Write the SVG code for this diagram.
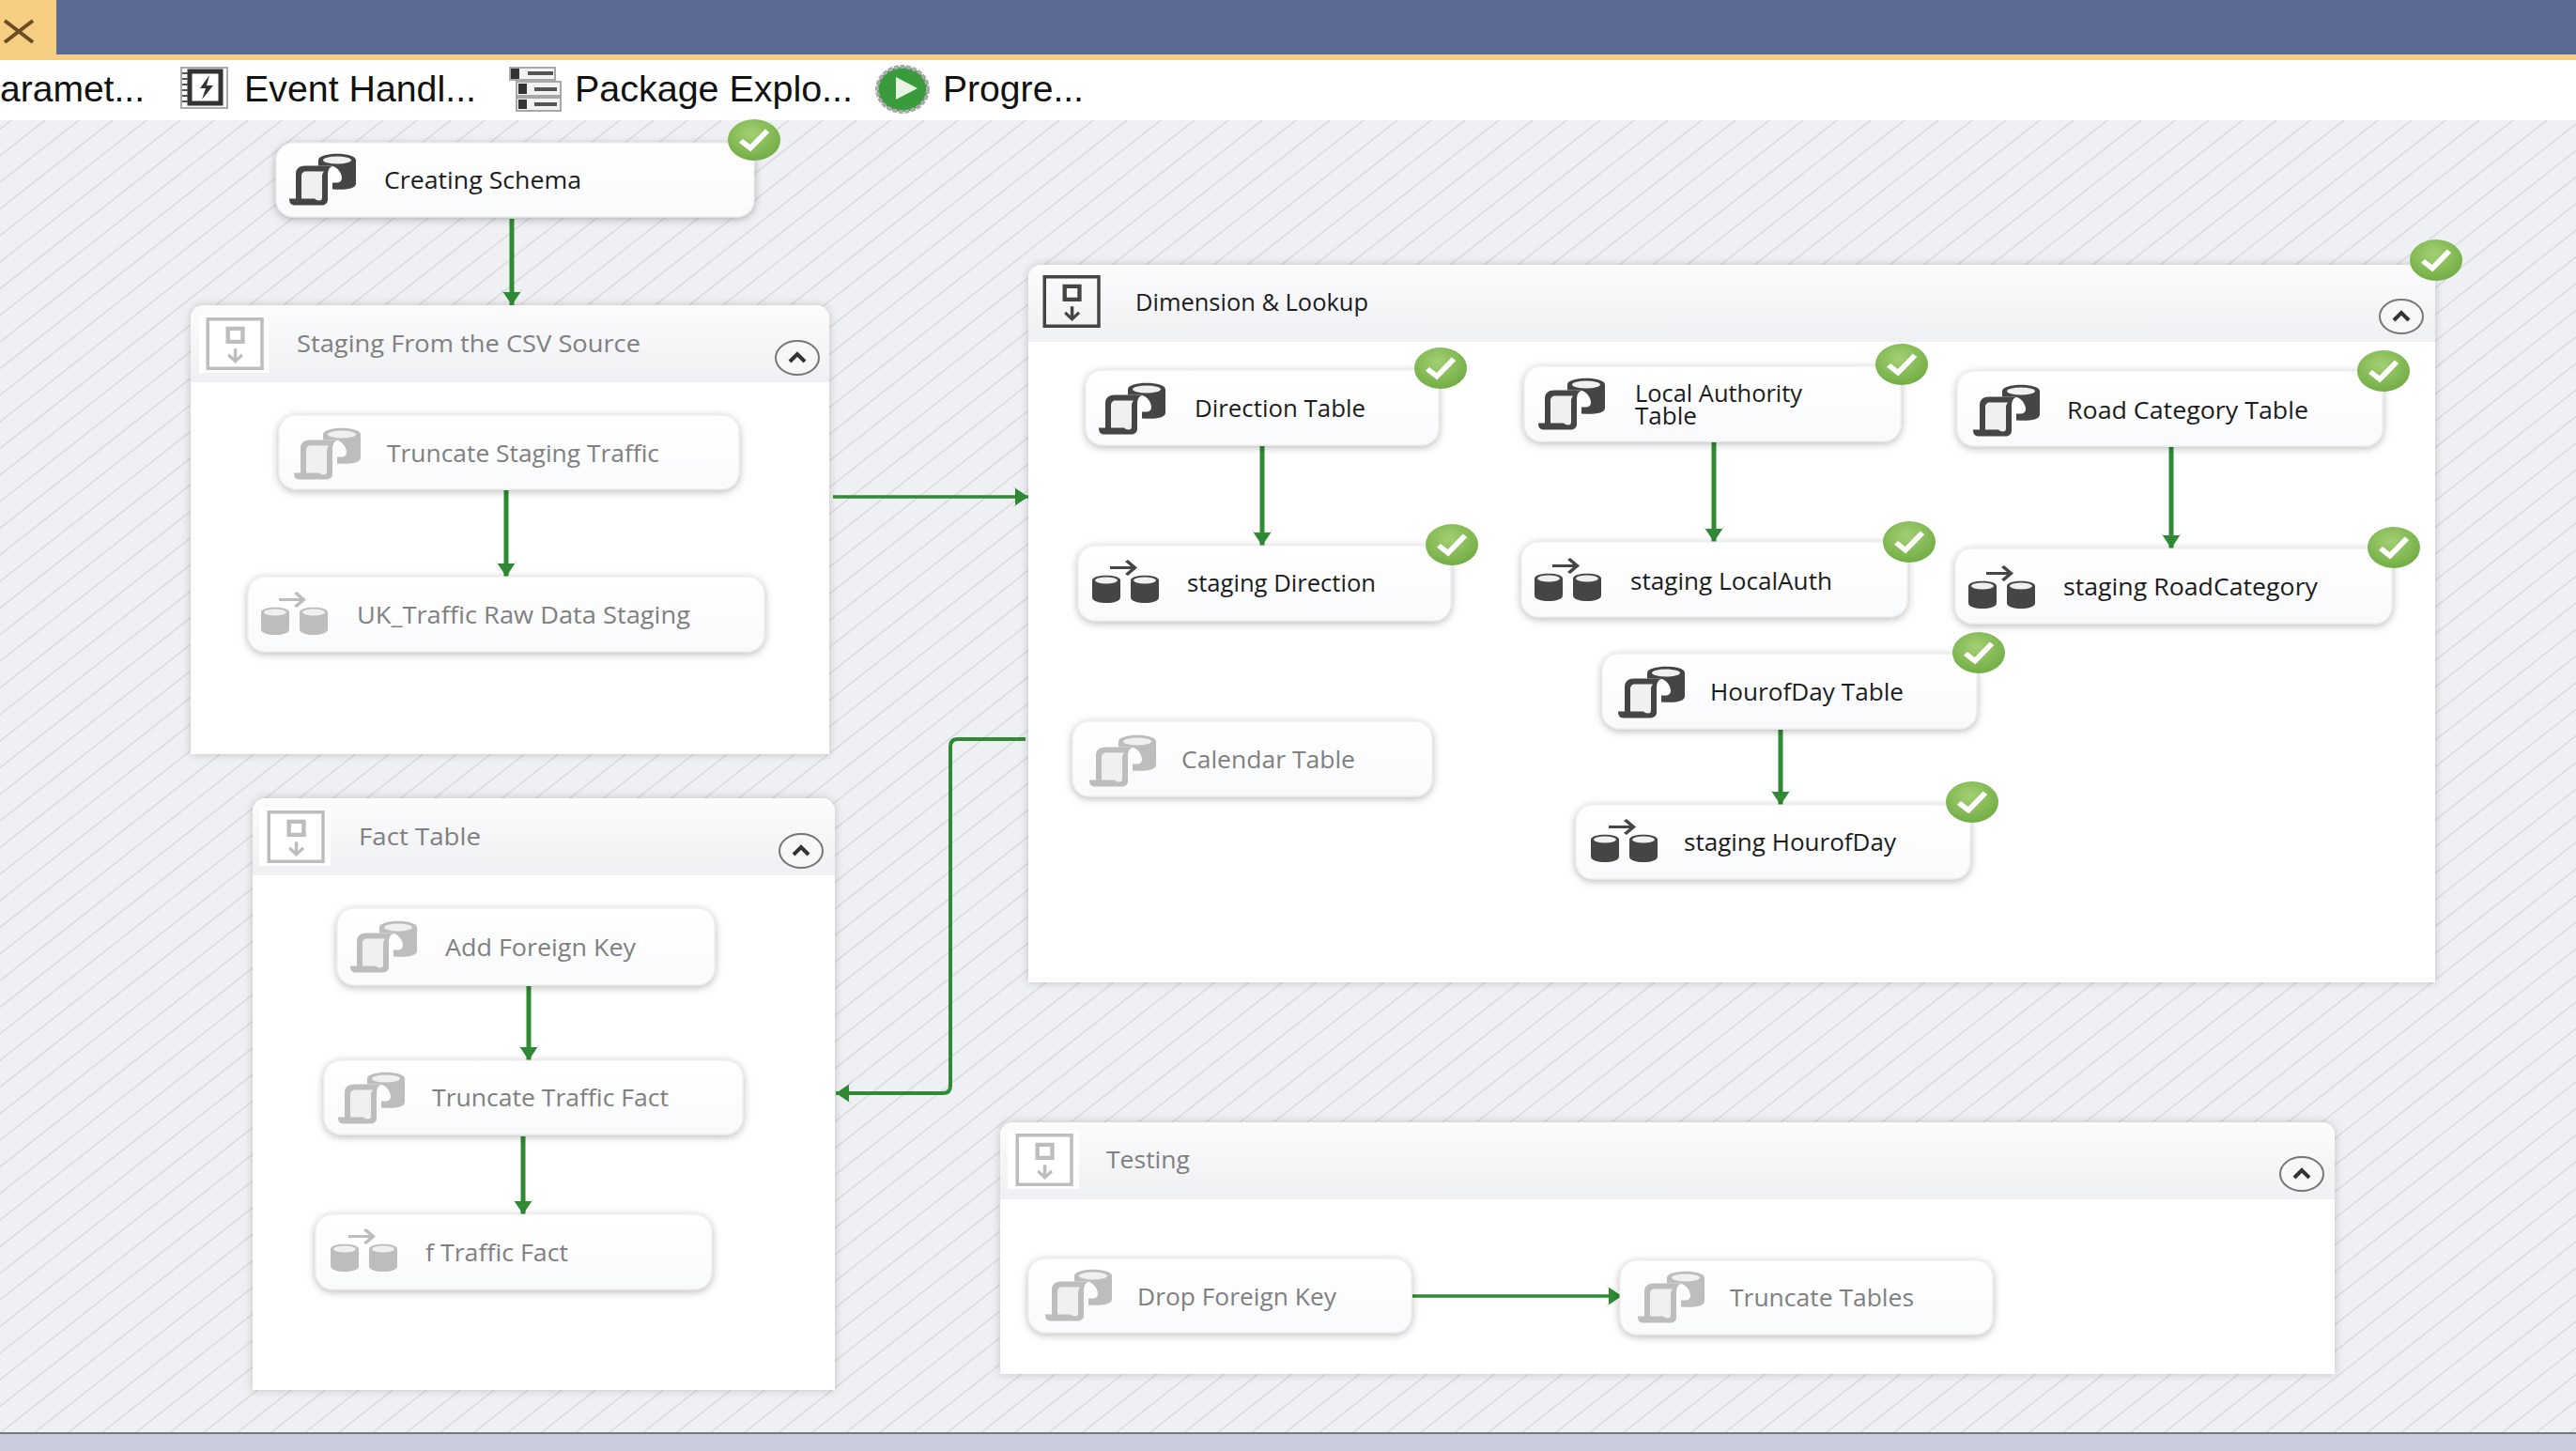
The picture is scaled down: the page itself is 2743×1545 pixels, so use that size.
<svg xmlns="http://www.w3.org/2000/svg" width="2743" height="1545" viewBox="0 0 2743 1545">
<style>
text{font-family:"Open Sans","Liberation Sans",sans-serif}
.tb{font-family:"Liberation Sans",Arial,sans-serif;font-size:39px;fill:#111}
.nt{font-size:25px;fill:#1c1c1c;transform:translateY(1.500px)}
.gt{font-size:25px;fill:#1c1c1c;transform:translateY(1.500px)}
.dim .nt,.dim .gt{fill:#808080}
use{fill:#454545}
.dim use{fill:#bdbdbd}
.card{fill:url(#cardG);stroke:#e8e9ec;stroke-width:1;filter:url(#sh)}
.group{fill:#fff;filter:url(#shg)}
.head{fill:url(#headG)}
.con{fill:none;stroke:#2f8a33;stroke-width:5;marker-end:url(#arr)}
.hor{stroke-width:3.500}
.chev{fill:#f6f7f9;stroke:#777;stroke-width:2}
.chevp{fill:none;stroke:#333;stroke-width:4}
.pk{fill:#f2f2f2;stroke:#a8a8a8;stroke-width:2}
</style>
<defs>
<linearGradient id="cardG" x1="0" y1="0" x2="0" y2="1"><stop offset="0" stop-color="#fff"/><stop offset="1" stop-color="#f9fafc"/></linearGradient>
<linearGradient id="headG" x1="0" y1="0" x2="0" y2="1"><stop offset="0" stop-color="#fcfcfd"/><stop offset="1" stop-color="#eff0f3"/></linearGradient>
<radialGradient id="okG" cx="0.45" cy="0.35" r="0.75"><stop offset="0" stop-color="#a4cf73"/><stop offset="1" stop-color="#6aa83d"/></radialGradient>
<filter id="sh" x="-10%" y="-30%" width="120%" height="170%"><feDropShadow dx="0" dy="2" stdDeviation="4" flood-color="#000" flood-opacity="0.28"/></filter>
<filter id="shg" x="-3%" y="-5%" width="106%" height="110%"><feDropShadow dx="0" dy="0" stdDeviation="5" flood-color="#000" flood-opacity="0.2"/></filter>
<pattern id="hatch" width="108" height="85" patternUnits="userSpaceOnUse" patternTransform="translate(12 128)"><path d="M-116 91.300L8 -6.300M-80 91.300L44 -6.300M-44 91.300L80 -6.300M-8 91.300L116 -6.300M28 91.300L152 -6.300M64 91.300L188 -6.300M100 91.300L224 -6.300" stroke="#d9dadd" stroke-width="1.500" fill="none"/></pattern>
<marker id="arr" markerUnits="userSpaceOnUse" markerWidth="20" markerHeight="26" refX="18" refY="13" orient="auto"><path d="M0 1L4 4V22L0 25L18 13Z" fill="#2f8a33"/></marker>
<symbol id="sql" viewBox="0 0 72 55" overflow="visible"><path d="M31 7C31 -2 71 -2 71 7V32C71 38 58 39 46 38V31H50C54 31 56 29 56 26C56 20 50 13 44 13H31Z"/><ellipse cx="51" cy="7" rx="15" ry="4" fill="#f0f0f0"/><path d="M13 24V48H27C28 49 30 50 32 50C34 50 35 49 35 46V24C35 22 36 20 37 19H18C15 19 13 21 13 24Z" fill="#f0f0f0"/><path d="M17 13H48C42 14 41 18 41 24V49C41 53 38 55 34 55H6C2 55 0 53 0 48H7V22C7 16 11 13 17 13ZM13 24V48H27C28 49 30 50 32 50C34 50 35 49 35 46V24C35 22 36 20 37 19H18C15 19 13 21 13 24Z" fill-rule="evenodd"/></symbol>
<symbol id="dft" viewBox="0 0 71 45" overflow="visible"><path d="M0 21C0 14 30 14 30 21V39C30 47 0 47 0 39Z"/><ellipse cx="15" cy="21" rx="12" ry="3.500" fill="#f0f0f0"/><path d="M41 21C41 14 71 14 71 21V39C71 47 41 47 41 39Z"/><ellipse cx="56" cy="21" rx="12" ry="3.500" fill="#f0f0f0"/><path d="M19 6H41L35 1L38 -1L48 7.500L38 16L35 14L41 9H19Z"/></symbol>
<symbol id="seq" viewBox="0 0 72 64" overflow="visible"><path d="M0 0H70V64H0ZM4 4V60H66V4Z" fill-rule="evenodd"/><path d="M24 11H47V32H24ZM29 16V27H42V16Z" fill-rule="evenodd"/><path d="M33.500 38H37.500V49L43 44L45 47L35.500 56L26 47L28 44L33.500 49Z"/></symbol>
<symbol id="ok" viewBox="0 0 56 50" preserveAspectRatio="none" overflow="visible"><ellipse cx="28" cy="25" rx="28" ry="25" fill="url(#okG)"/><path d="M14 26L24 35L42 14" fill="none" stroke="#fff" stroke-width="6"/></symbol>
</defs>
<rect width="2743" height="1545" fill="#eff0f3"/>
<rect width="2743" height="1400" y="128" fill="url(#hatch)"/>
<g id="titlebar"><rect width="2743" height="64" fill="#f6ce82"/><rect x="60" width="2683" height="58" fill="#5c6a96"/><path d="M5 22L35 45M35 22L5 45" stroke="#6b4a24" stroke-width="4" fill="none"/></g>
<g id="toolbar"><rect y="64" width="2743" height="64" fill="#fff"/>
<text class="tb" x="0" y="108" textLength="154" lengthAdjust="spacingAndGlyphs">aramet...</text>
<g><rect x="193" y="72" width="49" height="43" fill="#fafafa" stroke="#aaa" stroke-width="2"/><rect x="202" y="76" width="33" height="34" fill="#fff" stroke="#333" stroke-width="5"/><path d="M223 80L213 94H219L215 106L227 91H220Z" fill="#333"/><path d="M194 78H200M194 84H200M194 90H200M194 96H200M194 102H200M194 108H200" stroke="#555" stroke-width="2"/></g>
<text class="tb" x="260" y="108" textLength="247" lengthAdjust="spacingAndGlyphs">Event Handl...</text>
<g><rect class="pk" x="543" y="72" width="48" height="13"/><rect class="pk" x="550" y="87" width="47" height="15"/><rect class="pk" x="550" y="104" width="47" height="14"/><path d="M544 73H553V84H544ZM552 89H561V100H552ZM552 106H561V116H552Z" fill="#333"/><path d="M562 78H589M569 95H593M569 111H593" stroke="#555" stroke-width="4" fill="none"/></g>
<text class="tb" x="612" y="108" textLength="296" lengthAdjust="spacingAndGlyphs">Package Explo...</text>
<g><ellipse cx="961" cy="95" rx="27" ry="24" fill="#3a9b3c" stroke="#aaa" stroke-width="4" stroke-dasharray="5 1.500"/><path d="M954 82L977 94L954 106Z" fill="#eaf2e2"/></g>
<text class="tb" x="1004" y="108" textLength="150" lengthAdjust="spacingAndGlyphs">Progre...</text></g>
<g id="group-staging" class="dim"><path class="group" d="M203 803V339A14 14 0 0 1 217 325H869A14 14 0 0 1 883 339V803Z"/><path class="head" d="M203 407V339A14 14 0 0 1 217 325H869A14 14 0 0 1 883 339V407Z"/><rect x="212" y="335" width="74" height="62" fill="#fff"/><use href="#seq" x="216" y="338" width="70" height="56"/><text class="gt" x="316" y="373" textLength="366" lengthAdjust="spacingAndGlyphs">Staging From the CSV Source</text><ellipse class="chev" cx="849" cy="381" rx="23" ry="18"/><path class="chevp" d="M841 385L849 377L857 385"/></g>
<g id="group-fact" class="dim"><path class="group" d="M269 1480V864A14 14 0 0 1 283 850H875A14 14 0 0 1 889 864V1480Z"/><path class="head" d="M269 932V864A14 14 0 0 1 283 850H875A14 14 0 0 1 889 864V932Z"/><rect x="276" y="860" width="76" height="62" fill="#fff"/><use href="#seq" x="281" y="863" width="70" height="56"/><text class="gt" x="382" y="898" textLength="130" lengthAdjust="spacingAndGlyphs">Fact Table</text><ellipse class="chev" cx="853" cy="906" rx="23" ry="18"/><path class="chevp" d="M845 910L853 902L861 910"/></g>
<g id="group-dimension"><path class="group" d="M1095 1046V296A14 14 0 0 1 1109 282H2579A14 14 0 0 1 2593 296V1046Z"/><path class="head" d="M1095 364V296A14 14 0 0 1 1109 282H2579A14 14 0 0 1 2593 296V364Z"/><use href="#seq" x="1107" y="293" width="70" height="56"/><text class="gt" x="1209" y="329" textLength="248" lengthAdjust="spacingAndGlyphs">Dimension &amp; Lookup</text><ellipse class="chev" cx="2557" cy="337" rx="23" ry="18"/><path class="chevp" d="M2549 341L2557 333L2565 341"/></g>
<g id="group-testing" class="dim"><path class="group" d="M1065 1463V1209A14 14 0 0 1 1079 1195H2472A14 14 0 0 1 2486 1209V1463Z"/><path class="head" d="M1065 1277V1209A14 14 0 0 1 1079 1195H2472A14 14 0 0 1 2486 1209V1277Z"/><rect x="1073" y="1204" width="76" height="62" fill="#fff"/><use href="#seq" x="1078" y="1207" width="70" height="56"/><text class="gt" x="1178" y="1242" textLength="89" lengthAdjust="spacingAndGlyphs">Testing</text><ellipse class="chev" cx="2451" cy="1250" rx="23" ry="18"/><path class="chevp" d="M2443 1254L2451 1246L2459 1254"/></g>
<g id="connectors">
<path class="con" d="M545 233V325"/>
<path class="con" d="M539 522V614"/>
<path class="con hor" d="M887 529H1095"/>
<path class="con" d="M1092 787H1020Q1012 787 1012 795V1156Q1012 1164 1004 1164H890" style="stroke-width:4"/>
<path class="con" d="M563 1050V1129"/>
<path class="con" d="M557 1210V1293"/>
<path class="con" d="M1344 475V581"/>
<path class="con" d="M1825 471V577"/>
<path class="con" d="M2312 476V584"/>
<path class="con" d="M1896 777V857"/>
<path class="con hor" d="M1504 1380H1727"/>
</g>
<g id="n-creating-schema"><rect class="card" x="294" y="152" width="509" height="79" rx="18"/><use href="#sql" x="308" y="163" width="72" height="56"/><text class="nt" x="409" y="199" textLength="210" lengthAdjust="spacingAndGlyphs">Creating Schema</text></g>
<g id="n-truncate-staging" class="dim"><rect class="card" x="297" y="442" width="490" height="79" rx="18"/><use href="#sql" x="313" y="455" width="72" height="56"/><text class="nt" x="412" y="490" textLength="290" lengthAdjust="spacingAndGlyphs">Truncate Staging Traffic</text></g>
<g id="n-uk-traffic" class="dim"><rect class="card" x="264" y="614" width="550" height="80" rx="18"/><use href="#dft" x="278" y="631" width="71" height="45"/><text class="nt" x="380" y="662" textLength="355" lengthAdjust="spacingAndGlyphs">UK_Traffic Raw Data Staging</text></g>
<g id="n-add-fk" class="dim"><rect class="card" x="359" y="967" width="402" height="82" rx="18"/><use href="#sql" x="373" y="980" width="72" height="56"/><text class="nt" x="474" y="1016" textLength="203" lengthAdjust="spacingAndGlyphs">Add Foreign Key</text></g>
<g id="n-truncate-fact" class="dim"><rect class="card" x="345" y="1129" width="446" height="79" rx="18"/><use href="#sql" x="360" y="1141" width="72" height="56"/><text class="nt" x="460" y="1176" textLength="252" lengthAdjust="spacingAndGlyphs">Truncate Traffic Fact</text></g>
<g id="n-f-traffic" class="dim"><rect class="card" x="336" y="1293" width="422" height="80" rx="18"/><use href="#dft" x="352" y="1309" width="71" height="45"/><text class="nt" x="453" y="1341" textLength="152" lengthAdjust="spacingAndGlyphs">f Traffic Fact</text></g>
<g id="n-direction-table"><rect class="card" x="1156" y="394" width="376" height="80" rx="18"/><use href="#sql" x="1170" y="407" width="72" height="56"/><text class="nt" x="1272" y="442" textLength="182" lengthAdjust="spacingAndGlyphs">Direction Table</text></g>
<g id="n-local-authority"><rect class="card" x="1623" y="390" width="401" height="80" rx="18"/><use href="#sql" x="1638" y="402" width="72" height="56"/><text class="nt" x="1741" y="426" textLength="178" lengthAdjust="spacingAndGlyphs">Local Authority</text><text class="nt" x="1741" y="450" textLength="66" lengthAdjust="spacingAndGlyphs">Table</text></g>
<g id="n-road-category"><rect class="card" x="2084" y="395" width="453" height="80" rx="18"/><use href="#sql" x="2101" y="409" width="72" height="56"/><text class="nt" x="2201" y="444" textLength="257" lengthAdjust="spacingAndGlyphs">Road Category Table</text></g>
<g id="n-staging-direction"><rect class="card" x="1148" y="581" width="397" height="80" rx="18"/><use href="#dft" x="1163" y="597" width="71" height="45"/><text class="nt" x="1264" y="628" textLength="201" lengthAdjust="spacingAndGlyphs">staging Direction</text></g>
<g id="n-staging-localauth"><rect class="card" x="1620" y="577" width="411" height="80" rx="18"/><use href="#dft" x="1634" y="595" width="71" height="45"/><text class="nt" x="1736" y="626" textLength="215" lengthAdjust="spacingAndGlyphs">staging LocalAuth</text></g>
<g id="n-staging-road"><rect class="card" x="2082" y="584" width="465" height="80" rx="18"/><use href="#dft" x="2096" y="603" width="71" height="45"/><text class="nt" x="2197" y="632" textLength="271" lengthAdjust="spacingAndGlyphs">staging RoadCategory</text></g>
<g id="n-hourofday"><rect class="card" x="1706" y="696" width="399" height="80" rx="18"/><use href="#sql" x="1723" y="709" width="72" height="56"/><text class="nt" x="1821" y="744" textLength="206" lengthAdjust="spacingAndGlyphs">HourofDay Table</text></g>
<g id="n-calendar" class="dim"><rect class="card" x="1142" y="768" width="383" height="80" rx="18"/><use href="#sql" x="1160" y="782" width="72" height="56"/><text class="nt" x="1258" y="816" textLength="185" lengthAdjust="spacingAndGlyphs">Calendar Table</text></g>
<g id="n-staging-hourofday"><rect class="card" x="1678" y="857" width="420" height="79" rx="18"/><use href="#dft" x="1694" y="873" width="71" height="45"/><text class="nt" x="1793" y="904" textLength="226" lengthAdjust="spacingAndGlyphs">staging HourofDay</text></g>
<g id="n-drop-fk" class="dim"><rect class="card" x="1095" y="1340" width="408" height="79" rx="18"/><use href="#sql" x="1113" y="1351" width="72" height="56"/><text class="nt" x="1211" y="1388" textLength="212" lengthAdjust="spacingAndGlyphs">Drop Foreign Key</text></g>
<g id="n-truncate-tables" class="dim"><rect class="card" x="1725" y="1342" width="397" height="79" rx="18"/><use href="#sql" x="1744" y="1353" width="72" height="56"/><text class="nt" x="1842" y="1389" textLength="196" lengthAdjust="spacingAndGlyphs">Truncate Tables</text></g>
<g id="status">
<use href="#ok" x="775" y="127" width="56" height="44"/>
<use href="#ok" x="2566" y="255" width="56" height="44"/>
<use href="#ok" x="1506" y="370" width="56" height="44"/>
<use href="#ok" x="1997" y="366" width="56" height="44"/>
<use href="#ok" x="2510" y="373" width="56" height="44"/>
<use href="#ok" x="1518" y="558" width="56" height="44"/>
<use href="#ok" x="2005" y="555" width="56" height="44"/>
<use href="#ok" x="2521" y="561" width="56" height="44"/>
<use href="#ok" x="2079" y="673" width="56" height="44"/>
<use href="#ok" x="2072" y="832" width="56" height="44"/>
</g>
<rect y="1527" width="2743" height="18" fill="#c8ccdb"/><rect y="1525" width="2743" height="2" fill="#777"/>
</svg>
